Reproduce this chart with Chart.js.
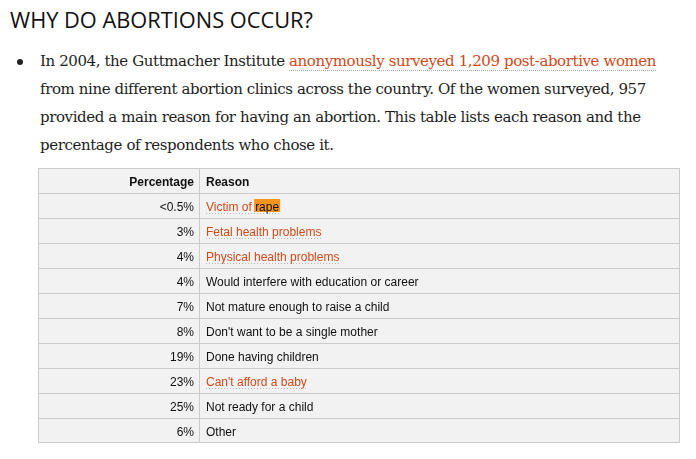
<!DOCTYPE html>
<html>
<head>
<meta charset="utf-8">
<script src="https://cdn.jsdelivr.net/npm/chart.js@4"></script>
<style>
  html, body { margin: 0; padding: 0; background: #fff; }
  body { width: 696px; height: 459px; position: relative; overflow: hidden; color: #1e1e1e; }
  h2 {
    position: absolute; left: 10px; top: 5px; margin: 0;
    font: 400 21.8px "Open Sans", sans-serif; letter-spacing: 0; color: #111;
  }
  .bullet {
    position: absolute; left: 17px; top: 59px; width: 6px; height: 6px;
    border-radius: 50%; background: #222;
  }
  .line {
    position: absolute; left: 40px; white-space: nowrap;
    font: 15px "DejaVu Serif", serif; letter-spacing: -0.4px; color: #1e1e1e;
  }
  .line a { color: #d04a1a; text-decoration: none; border-bottom: 1px dotted #aaa; }
  #wrap { position: absolute; left: 38px; top: 168px; width: 642px; height: 276px; }
</style>
</head>
<body>
<h2>WHY DO ABORTIONS OCCUR?</h2>
<div class="bullet"></div>
<div class="line" style="top:52px">In 2004, the Guttmacher Institute <a>anonymously surveyed 1,209 post-abortive women</a></div>
<div class="line" style="top:80px">from nine different abortion clinics across the country. Of the women surveyed, 957</div>
<div class="line" style="top:108px">provided a main reason for having an abortion. This table lists each reason and the</div>
<div class="line" style="top:136px">percentage of respondents who chose it.</div>
<div id="wrap"><canvas id="table"></canvas></div>
<script>
// ===== データ =====
const headers = ["Percentage", "Reason"];
const percentages = ["<0.5%", "3%", "4%", "4%", "7%", "8%", "19%", "23%", "25%", "6%"];
const reasons = [
  "Victim of rape",
  "Fetal health problems",
  "Physical health problems",
  "Would interfere with education or career",
  "Not mature enough to raise a child",
  "Don't want to be a single mother",
  "Done having children",
  "Can't afford a baby",
  "Not ready for a child",
  "Other"
];
const linkedRows = [0, 1, 2, 7];
const highlightWord = "rape";

// ===== レイアウト =====
const colSplit = 162 / 642;   // 左列の幅（割合）
const cellBg = "#f2f2f2";
const cellBorder = "#cbcbcb";
const linkColor = "#d04a1a";

const rowLabels = [headers[0], ...percentages];
const lastRow = rowLabels.length - 1;

function borders(colIndex) {
  return (c) => ({
    top: 1,
    bottom: c.dataIndex === lastRow ? 1 : 0,
    left: colIndex === 0 ? 1 : 0,
    right: 1
  });
}

// ===== セル内テキスト =====
const cellText = {
  id: "cellText",
  afterDatasetsDraw(chart) {
    const { ctx, scales: { x, y } } = chart;
    const splitX = x.getPixelForValue(colSplit);
    const rowH = y.getPixelForValue(1) - y.getPixelForValue(0);
    ctx.save();
    ctx.textBaseline = "alphabetic";

    rowLabels.forEach((label, i) => {
      const top = y.getPixelForValue(i) - rowH / 2;
      const base = top + 17.5;
      const header = i === 0;
      ctx.font = (header ? "bold " : "") + "12px 'Liberation Sans', Arial, sans-serif";

      // 左列
      ctx.fillStyle = "#111";
      ctx.textAlign = "right";
      ctx.fillText(label, splitX - 6, base);

      // 右列
      ctx.textAlign = "left";
      const text = header ? headers[1] : reasons[i - 1];
      const tx = splitX + 6;
      const linked = !header && linkedRows.includes(i - 1);
      if (linked) {
        const w = ctx.measureText(text).width;
        const hl = text.endsWith(highlightWord) ? highlightWord : null;
        const plain = hl ? text.slice(0, text.length - hl.length) : text;
        if (hl) {
          const px = tx + ctx.measureText(plain).width;
          const hw = ctx.measureText(hl).width;
          ctx.fillStyle = "#f7941d";
          ctx.fillRect(px - 1, top + 6, hw + 2, 13);
          ctx.fillStyle = "#111";
          ctx.fillText(hl, px, base);
        }
        ctx.fillStyle = linkColor;
        ctx.fillText(plain, tx, base);
        // 点線の下線
        ctx.strokeStyle = "#b5b5b5";
        ctx.lineWidth = 1;
        ctx.setLineDash([1, 2]);
        ctx.beginPath();
        ctx.moveTo(tx, Math.round(base + 2) + 0.5);
        ctx.lineTo(tx + w, Math.round(base + 2) + 0.5);
        ctx.stroke();
        ctx.setLineDash([]);
      } else {
        ctx.fillStyle = "#111";
        ctx.fillText(text, tx, base);
      }
    });
    ctx.restore();
  }
};

// ===== 表の描画 =====
const ctx = document.getElementById("table").getContext("2d");
new Chart(ctx, {
  type: "bar",
  data: {
    labels: rowLabels,
    datasets: [
      {
        label: headers[0],
        data: rowLabels.map(() => [0, colSplit]),
        backgroundColor: cellBg,
        borderColor: cellBorder,
        borderWidth: borders(0),
        borderSkipped: false,
        inflateAmount: 0,
        grouped: false,
        barPercentage: 1,
        categoryPercentage: 1
      },
      {
        label: headers[1],
        data: rowLabels.map(() => [colSplit, 1]),
        backgroundColor: cellBg,
        borderColor: cellBorder,
        borderWidth: borders(1),
        borderSkipped: false,
        inflateAmount: 0,
        grouped: false,
        barPercentage: 1,
        categoryPercentage: 1
      }
    ]
  },
  options: {
    indexAxis: "y",
    responsive: true,
    maintainAspectRatio: false,
    animation: false,
    layout: { padding: { bottom: 1 } },
    plugins: { legend: { display: false }, tooltip: { enabled: false } },
    scales: {
      x: { type: "linear", min: 0, max: 1, display: false },
      y: { type: "category", display: false }
    }
  },
  plugins: [cellText]
});
</script>
</body>
</html>
